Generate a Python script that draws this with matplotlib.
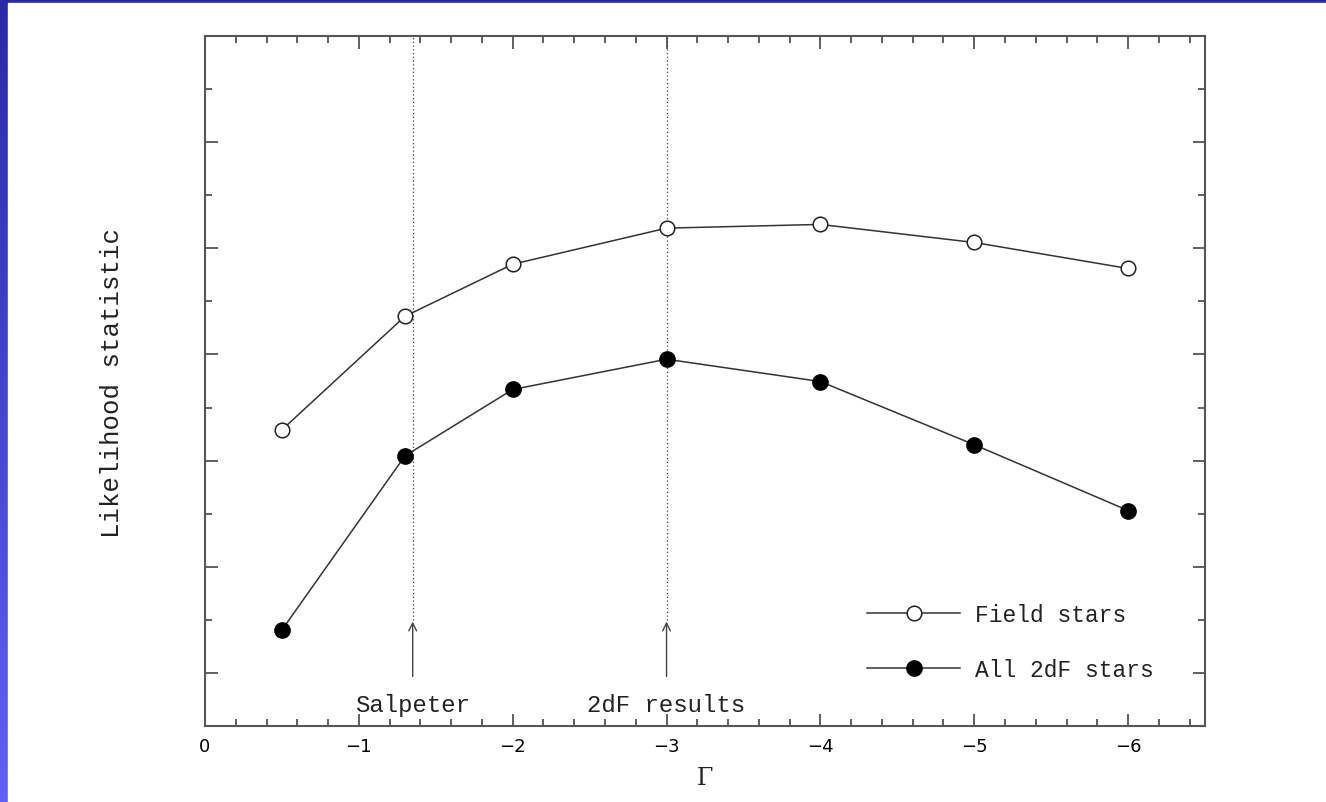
import numpy as np
import matplotlib
matplotlib.use("Agg")
import matplotlib.pyplot as plt
from matplotlib.colors import LinearSegmentedColormap

# ---- data ----
gamma = [-0.5, -1.3, -2.0, -3.0, -4.0, -5.0, -6.0]
field_stars = [5.58, 7.72, 8.70, 9.38, 9.45, 9.11, 8.62]
all_2df_stars = [1.81, 5.09, 6.34, 6.91, 6.49, 5.30, 4.06]
x_ticks = [0, -1, -2, -3, -4, -5, -6]
x_ticklabels = ["0", "\u22121", "\u22122", "\u22123", "\u22124", "\u22125", "\u22126"]
markers_x = [-1.35, -3.0]
marker_labels = ["Salpeter", "2dF results"]
series_labels = ["Field stars", "All 2dF stars"]

W, H = 1326, 803
fig = plt.figure(figsize=(W / 100, H / 100), dpi=100)

# slide background: blue gradient frame with white panel
bg = fig.add_axes([0, 0, 1, 1], zorder=-10)
cmap = LinearSegmentedColormap.from_list("blu", ["#2a2aa8", "#6060f6"])
grad = np.linspace(0, 1, 256).reshape(-1, 1)
bg.imshow(grad, aspect="auto", cmap=cmap, extent=[0, 1, 0, 1], origin="upper")
bg.add_patch(plt.Rectangle((8 / W, 0), 1, 1 - 4 / H, color="white", transform=bg.transAxes))
bg.set_xlim(0, 1)
bg.set_ylim(0, 1)
bg.axis("off")

mono = "Liberation Mono"
serif = "DejaVu Serif"
txt_col = "#222222"
line_col = "#333333"

ax = fig.add_axes([205 / W, 76 / H, 1000 / W, 690 / H])
ax.set_facecolor("none")

ax.plot(gamma, field_stars, color=line_col, lw=1.1, marker="o", ms=10.5,
        mfc="white", mec="#222222", mew=1.1, label=series_labels[0], zorder=3)
ax.plot(gamma, all_2df_stars, color=line_col, lw=1.1, marker="o", ms=11,
        mfc="black", mec="black", label=series_labels[1], zorder=3)

for xv, lab in zip(markers_x, marker_labels):
    ax.vlines(xv, 2.0, 13, colors="#444444", linestyles=(0, (1, 2)), lw=0.9)
    ax.annotate("", xy=(xv, 2.02), xytext=(xv, 0.88),
                arrowprops=dict(arrowstyle="->", color="#444444", lw=1.0,
                                mutation_scale=14))
    ax.text(xv, 0.28, lab, ha="center", va="baseline", fontsize=17.3,
            family=mono, color=txt_col)

ax.set_xlim(0, -6.5)
ax.set_ylim(0, 13)
ax.set_xticks(x_ticks)
ax.set_xticklabels(x_ticklabels, fontsize=13, family="DejaVu Sans")
ax.set_xticks(np.arange(0, -6.5, -0.2), minor=True)
ax.set_yticks([1, 3, 5, 7, 9, 11])
ax.set_yticks([2, 4, 6, 8, 10, 12], minor=True)
ax.set_yticklabels([])
ax.tick_params(which="both", direction="in", top=True, right=True,
               color="#444444", width=1.2)
ax.tick_params(which="major", length=9, pad=8)
ax.tick_params(which="minor", length=5)
for s in ax.spines.values():
    s.set_color("#555555")
    s.set_linewidth(1.5)

ax.set_xlabel("\u0393", fontsize=17, family=serif, labelpad=8, color=txt_col)
ax.set_ylabel("Likelihood statistic", fontsize=18.5, family=mono, color=txt_col)
ax.yaxis.label.set_va("center")
ax.yaxis.set_label_coords(-0.093, 0.498)

leg = ax.legend(loc="center left", bbox_to_anchor=(0.662, 0.122), frameon=False,
                prop={"family": mono, "size": 16.5}, handlelength=4.06,
                handletextpad=0.65, labelspacing=1.39, borderaxespad=0,
                borderpad=0)
for t in leg.get_texts():
    t.set_color(txt_col)

fig.savefig("out.png", dpi=100)
